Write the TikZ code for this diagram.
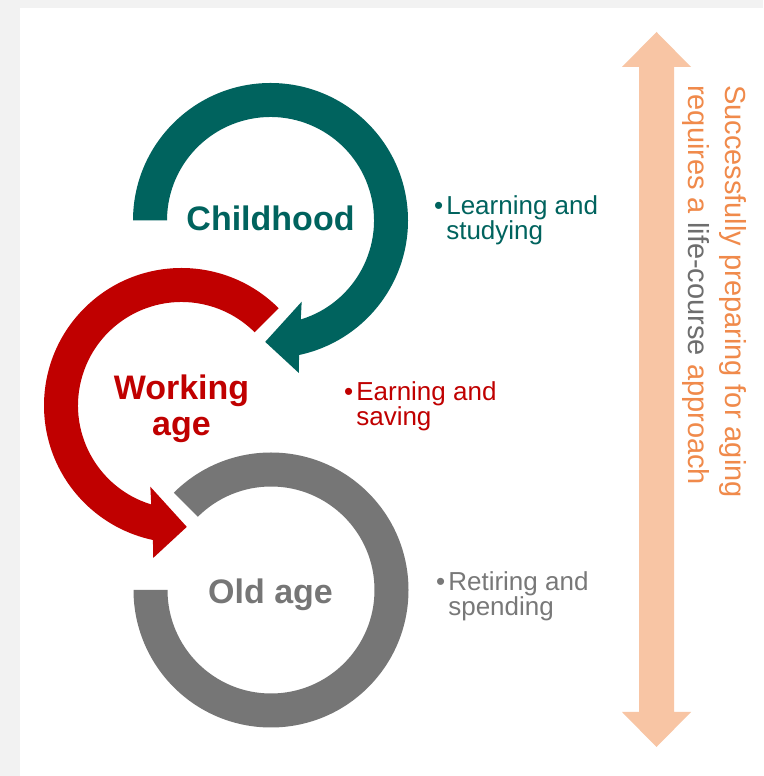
\documentclass[tikz,border=0pt]{standalone}
\usepackage{fontspec}
\setmainfont{Liberation Sans}

\definecolor{pagegray}{RGB}{242,242,242}
\definecolor{kidteal}{RGB}{0,99,94}
\definecolor{workred}{RGB}{192,0,0}
\definecolor{oldgray}{RGB}{118,118,118}
\definecolor{notegray}{RGB}{120,120,120}
\definecolor{peach}{RGB}{248,197,164}
\definecolor{noteorange}{RGB}{240,138,75}
\definecolor{lcgray}{RGB}{110,110,110}

\begin{document}
\begin{tikzpicture}[
  x=1pt, y=1pt,
  stage/.style={font=\fontsize{34}{36}\selectfont\bfseries, inner sep=0pt, align=center},
  note/.style={font=\fontsize{26}{23.5}\selectfont, inner sep=0pt, align=left, anchor=north west},
]

% === PAGE ===
\fill[pagegray] (0,0) rectangle (763,776);
\fill[white] (20,0) rectangle (763,767.5);

% === LIFE STAGE RINGS ===
% old age: open ring, no head
\begin{scope}[shift={(271,186)}]
  \fill[oldgray] (135:137.5) arc[start angle=135, end angle=-180, radius=137.5]
    -- (-180:103.5) arc[start angle=-180, end angle=135, radius=103.5] -- cycle;
\end{scope}

% working age: runs anticlockwise, head points at old age
\begin{scope}[shift={(181.5,370.5)}]
  \fill[workred] (45:137.5) arc[start angle=45, end angle=258, radius=137.5]
    -- (259.5:155) -- (272.5:121.5) -- (249:87) -- (253:103.5)
    arc[start angle=253, end angle=45, radius=103.5] -- cycle;
\end{scope}

% childhood: runs clockwise, head points at working age
\begin{scope}[shift={(270.5,555.5)}]
  \fill[kidteal] (180:137.5) arc[start angle=180, end angle=-78, radius=137.5]
    -- (-79.5:155) -- (-92.5:121.5) -- (-69:87) -- (-73:103.5)
    arc[start angle=-73, end angle=180, radius=103.5] -- cycle;
\end{scope}

\node[stage, text=kidteal, anchor=base] (child) at (270.5,545.3) {Childhood};
\node[stage, text=workred] (work) at (181.5,367) {Working\\age};
\node[stage, text=oldgray, anchor=base] (old) at (270.5,172) {Old age};

% === NOTES ===
\node[note, text=kidteal] (learn) at (434,580.5)
  {\textbullet\hspace{3pt}Learning and\\\hphantom{\textbullet\hspace{3pt}}studying};
\node[note, text=workred] (earn) at (344,394.5)
  {\textbullet\hspace{3pt}Earning and\\\hphantom{\textbullet\hspace{3pt}}saving};
\node[note, text=notegray] (spend) at (436,204.5)
  {\textbullet\hspace{3pt}Retiring and\\\hphantom{\textbullet\hspace{3pt}}spending};

% === LIFE-COURSE ARROW ===
\fill[peach] (656.5,744) -- (691,709) -- (674,709) -- (674,64) -- (691,64)
  -- (656.5,29) -- (622,64) -- (639,64) -- (639,709) -- (622,709) -- cycle;

\node[rotate=-90, anchor=north west, inner sep=0pt, align=left, text=noteorange,
  font=\fontsize{29}{37}\selectfont] (moto) at (747,691)
  {Successfully preparing for aging\\requires a \textcolor{lcgray}{life-course} approach};
\end{tikzpicture}
\end{document}
